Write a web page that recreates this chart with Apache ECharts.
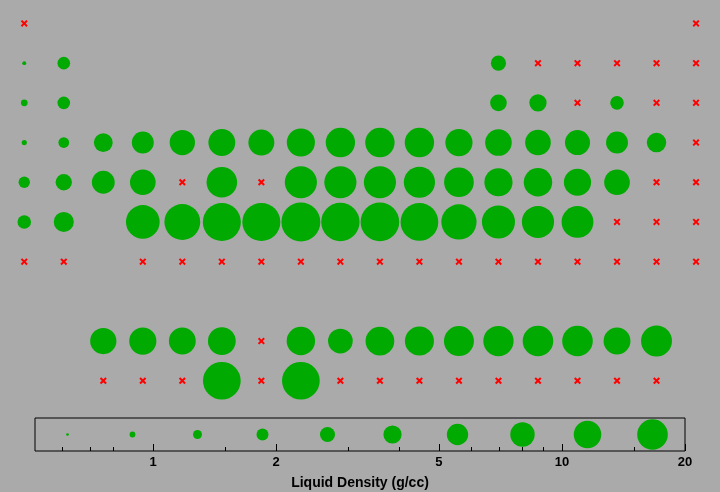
<!DOCTYPE html>
<html><head><meta charset="utf-8">
<script src="https://cdn.jsdelivr.net/npm/echarts@6/dist/echarts.min.js"></script>
<style>html,body{margin:0;padding:0;background:#aaaaaa}#c{width:720px;height:492px}</style>
</head><body><div id="c"></div>
<script>
// X = failed (red cross), null = no measurement, number = circle magnitude (legend units)
const X = 'x';
const colCats = ['1','2','3','4','5','6','7','8','9','10','11','12','13','14','15','16','17','18'];
const rowCats = ['1','2','3','4','5','6','7','8','9','10'];
const row1  = [X, null, null, null, null, null, null, null, null, null, null, null, null, null, null, null, null, X];
const row2  = [1.4, 4.2, null, null, null, null, null, null, null, null, null, null, 5.0, X, X, X, X, X];
const row3  = [2.3, 4.2, null, null, null, null, null, null, null, null, null, null, 5.5, 5.7, X, 4.5, X, X];
const row4  = [1.8, 3.6, 6.2, 7.2, 8.3, 8.8, 8.5, 9.2, 9.6, 9.6, 9.6, 8.9, 8.7, 8.4, 8.2, 7.2, 6.4, X];
const row5  = [3.8, 5.4, 7.5, 8.4, X, 10.0, X, 10.5, 10.5, 10.5, 10.2, 9.7, 9.2, 9.3, 8.9, 8.4, X, X];
const row6  = [4.5, 6.6, null, 11.0, 11.7, 12.4, 12.4, 12.7, 12.5, 12.6, 12.3, 11.5, 10.8, 10.5, 10.4, X, X, X];
const row7  = [X, X, null, X, X, X, X, X, X, X, X, X, X, X, X, X, X, X];
const row8  = [null, null, null, null, null, null, null, null, null, null, null, null, null, null, null, null, null, null];
const row9  = [null, null, 8.6, 8.9, 8.8, 9.1, X, 9.3, 8.1, 9.4, 9.5, 9.8, 9.9, 10.0, 10.0, 8.8, 10.1, null];
const row10 = [null, null, X, X, X, 12.3, X, 12.3, X, X, X, X, X, X, X, X, X, null];
const legendValues = [1, 2, 3, 4, 5, 6, 7, 8, 9, 10];
const legendCats = ['1','2','3','4','5','6','7','8','9','10'];
const majorTicks = [1, 2, 5, 10, 20];
const minorTicks = [0.6, 0.7, 0.8, 1.5, 3, 4, 6, 7, 8, 9, 15];
const xMin = 0.5145, xMax = 20;

const rows = [row1, row2, row3, row4, row5, row6, row7, row8, row9, row10];
const circles = [], crosses = [];
rows.forEach((r, ri) => r.forEach((v, ci) => {
  if (v === X) crosses.push([ci, ri]);
  else if (v != null) circles.push([ci, ri, v]);
}));
const sz = v => 3.1 * v - 0.4;
const GREEN = '#00aa00', RED = '#ff0000';
const crossPath = 'path://M0,2L2,0L5,3L8,0L10,2L7,5L10,8L8,10L5,7L2,10L0,8L3,5Z';
const ticks = majorTicks.map(v => [v, 0, 1]).concat(minorTicks.map(v => [v, 0, 0]));
const FONT = '"Liberation Sans", Arial, Helvetica, sans-serif';

const chart = echarts.init(document.getElementById('c'), null, {renderer: 'canvas'});
chart.setOption({
  backgroundColor: '#aaaaaa',
  animation: false,
  title: {
    text: 'Liquid Density (g/cc)', left: 'center', top: 471,
    textStyle: {fontFamily: FONT, fontSize: 14, fontWeight: 'bold', color: '#000'}
  },
  grid: [
    {left: 4.5, right: 4.2, top: 3.6, height: 397, show: false},
    {left: 35, right: 35, top: 418, height: 33, show: true, borderColor: '#000', borderWidth: 1, backgroundColor: 'transparent'}
  ],
  xAxis: [
    {gridIndex: 0, type: 'category', data: colCats, boundaryGap: true, show: false},
    {gridIndex: 1, type: 'log', logBase: 10, min: xMin, max: xMax, show: false},
    {gridIndex: 1, type: 'category', data: legendCats, boundaryGap: true, show: false}
  ],
  yAxis: [
    {gridIndex: 0, type: 'category', data: rowCats, boundaryGap: true, inverse: true, show: false},
    {gridIndex: 1, type: 'value', min: 0, max: 1, show: false}
  ],
  series: [
    {
      type: 'scatter', xAxisIndex: 0, yAxisIndex: 0, data: circles,
      symbol: 'circle', symbolSize: d => sz(d[2]),
      itemStyle: {color: GREEN, opacity: 1}, silent: true
    },
    {
      type: 'scatter', xAxisIndex: 0, yAxisIndex: 0, data: crosses,
      symbol: crossPath, symbolSize: 7,
      itemStyle: {color: RED, opacity: 1}, silent: true
    },
    {
      type: 'scatter', xAxisIndex: 2, yAxisIndex: 1,
      data: legendValues.map((v, i) => [legendCats[i], 0.5, v]),
      symbol: 'circle', symbolSize: d => sz(d[2]),
      itemStyle: {color: GREEN, opacity: 1}, silent: true
    },
    {
      type: 'custom', xAxisIndex: 1, yAxisIndex: 1, data: ticks, clip: false, silent: true,
      renderItem: (params, api) => {
        const v = api.value(0), maj = api.value(2);
        const p = api.coord([v, 0]);
        const x = Math.round(p[0]) + 0.5;
        const len = maj ? 7 : 4;
        const children = [{
          type: 'line',
          shape: {x1: x, y1: p[1], x2: x, y2: p[1] - len},
          style: {stroke: '#000', lineWidth: 1}
        }];
        if (maj) children.push({
          type: 'text',
          style: {text: String(v), x: p[0], y: p[1] + 11, align: 'center', verticalAlign: 'middle',
                  font: 'bold 13px ' + FONT, fill: '#000'}
        });
        return {type: 'group', children};
      }
    }
  ]
});
</script>
</body></html>
